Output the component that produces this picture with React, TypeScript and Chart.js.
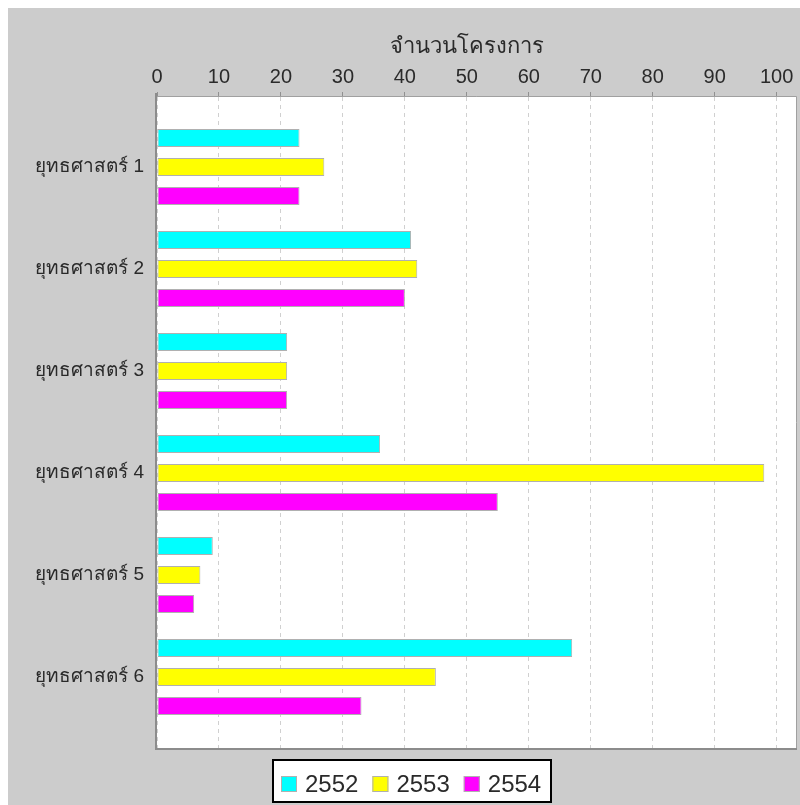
import React, { useEffect, useRef } from 'react';
import { Chart, registerables } from 'chart.js';

Chart.register(...registerables);

const CATEGORIES = ['ยุทธศาสตร์ 1', 'ยุทธศาสตร์ 2', 'ยุทธศาสตร์ 3', 'ยุทธศาสตร์ 4', 'ยุทธศาสตร์ 5', 'ยุทธศาสตร์ 6'];
const SERIES = ['2552', '2553', '2554'];
const VALUES_2552 = [23, 41, 21, 36, 9, 67];
const VALUES_2553 = [27, 42, 21, 98, 7, 45];
const VALUES_2554 = [23, 40, 21, 55, 6, 33];
const SERIES_VALUES = [VALUES_2552, VALUES_2553, VALUES_2554];
const COLORS = ['#00ffff', '#ffff00', '#ff00ff'];
const AXIS_TITLE = 'จำนวนโครงการ';
const X_TICK_MAX = 100;

const FONT = "Tahoma, 'Liberation Sans', 'DejaVu Sans', sans-serif";
const TEXT_COLOR = '#2a2a2a';

const decorPlugin = {
  id: 'decor',
  beforeDraw(chart: any) {
    const { ctx, chartArea: a, width, height } = chart;
    ctx.save();
    ctx.fillStyle = '#cccccc';
    ctx.fillRect(0, 0, width, height);
    ctx.fillStyle = '#ffffff';
    ctx.fillRect(a.left, a.top, a.right - a.left, a.bottom - a.top);
    ctx.restore();
  },
  afterDraw(chart: any) {
    const { ctx, chartArea: a } = chart;
    const xs = chart.scales.x;
    ctx.save();
    // plot border
    ctx.strokeStyle = '#a0a0a0';
    ctx.lineWidth = 1;
    ctx.beginPath();
    ctx.moveTo(a.left, a.top - 0.5);
    ctx.lineTo(a.right - 0.5, a.top - 0.5);
    ctx.lineTo(a.right - 0.5, a.bottom);
    ctx.stroke();
    ctx.strokeStyle = '#8c8c8c';
    ctx.lineWidth = 2;
    ctx.beginPath();
    ctx.moveTo(a.left - 1, a.top - 4);
    ctx.lineTo(a.left - 1, a.bottom + 1);
    ctx.lineTo(a.right, a.bottom + 1);
    ctx.stroke();

    // axis title
    ctx.fillStyle = TEXT_COLOR;
    ctx.font = `22px ${FONT}`;
    ctx.textAlign = 'center';
    ctx.textBaseline = 'middle';
    const cx = (xs.getPixelForValue(0) + xs.getPixelForValue(X_TICK_MAX)) / 2;
    ctx.fillText(AXIS_TITLE, cx, 39);

    // legend
    const bx = 265, by = 752, bw = 278, bh = 42;
    ctx.fillStyle = '#ffffff';
    ctx.fillRect(bx, by, bw, bh);
    ctx.strokeStyle = '#000000';
    ctx.lineWidth = 2;
    ctx.strokeRect(bx, by, bw, bh);
    ctx.font = `24px 'Liberation Sans', Arial, sans-serif`;
    ctx.textAlign = 'left';
    let x = 273;
    chart.data.datasets.forEach((ds: any) => {
      ctx.fillStyle = ds.backgroundColor;
      ctx.fillRect(x, 768, 16, 16);
      ctx.strokeStyle = '#b0b0b0';
      ctx.lineWidth = 1;
      ctx.strokeRect(x + 0.5, 768.5, 15, 15);
      ctx.fillStyle = TEXT_COLOR;
      ctx.fillText(ds.label, x + 24, 777);
      x += 24 + ctx.measureText(ds.label).width + 14;
    });
    ctx.restore();
  },
};

export default function App() {
  const ref = useRef<HTMLCanvasElement | null>(null);

  useEffect(() => {
    if (!ref.current) return;
    const chart = new Chart(ref.current, {
      type: 'bar',
      data: {
        datasets: SERIES.map((label, si) => ({
          label,
          data: CATEGORIES.map((_, ci) => ({ x: SERIES_VALUES[si][ci], y: ci })),
          backgroundColor: COLORS[si],
          borderColor: '#b0b0b0',
          borderWidth: 1,
          borderSkipped: false,
          categoryPercentage: 0.853,
          barPercentage: 0.62,
        })),
      },
      options: {
        indexAxis: 'y',
        animation: false,
        responsive: false,
        maintainAspectRatio: false,
        layout: { padding: { left: 0, top: 0, right: 3, bottom: 57 } },
        plugins: {
          legend: { display: false },
          tooltip: { enabled: false },
          title: { display: false },
        },
        scales: {
          x: {
            type: 'linear',
            position: 'top',
            min: 0,
            max: 103.28,
            offset: false,
            afterFit: (s: any) => { s.height = 89; },
            ticks: {
              stepSize: 10,
              includeBounds: false,
              autoSkip: false,
              maxRotation: 0,
              padding: 3,
              color: TEXT_COLOR,
              font: { family: "'Liberation Sans', Arial, sans-serif", size: 20 },
              callback: (v: any) => (v <= X_TICK_MAX ? String(v) : ''),
            },
            grid: {
              color: '#d0d0d0',
              lineWidth: 1,
              drawTicks: true,
              tickLength: 5,
              tickColor: '#909090',
              tickBorderDash: [],
              offset: false,
            },
            border: { display: false, dash: [4, 4] },
          },
          y: {
            type: 'linear',
            reverse: true,
            min: -0.686,
            max: 5.696,
            offset: false,
            afterFit: (s: any) => { s.width = 149; },
            ticks: {
              stepSize: 1,
              includeBounds: false,
              autoSkip: false,
              padding: 13,
              color: TEXT_COLOR,
              font: { family: FONT, size: 19 },
              callback: (v: any) => CATEGORIES[v] ?? '',
            },
            grid: { display: false, drawTicks: false, offset: false },
            border: { display: false },
          },
        },
      },
      plugins: [decorPlugin],
    } as any);
    return () => chart.destroy();
  }, []);

  return (
    <div style={{ position: 'fixed', left: 8, top: 8, width: 792, height: 797 }}>
      <canvas ref={ref} width={792} height={797} style={{ display: 'block' }} />
    </div>
  );
}
